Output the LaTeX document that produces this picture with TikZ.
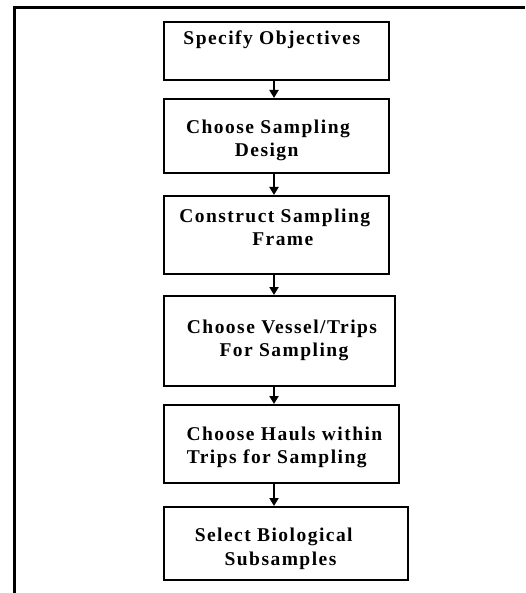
\documentclass[tikz,border=0pt]{standalone}
\usepackage{fontspec}
\newfontfamily\boxfont{Liberation Serif}[LetterSpace=7.5]
\usetikzlibrary{arrows.meta}
\tikzset{
  box/.style={draw=black, line width=2pt, rectangle, inner sep=0pt, fill=none},
  lbl/.style={anchor=base, inner sep=0pt, font={\boxfont\bfseries\fontsize{19.5}{22.7}\selectfont}},
  arr/.style={line width=2pt, -{Triangle[width=9pt,length=8pt]}},
  frame/.style={line width=3pt}
}
\begin{document}
\begin{tikzpicture}[x=1pt,y=-1pt]
\useasboundingbox (0,0) rectangle (525,593);
\draw[frame] (14.5,593) -- (14.5,8) -- (525,8);
% boxes
\node[box, minimum width=225pt, minimum height=58pt] (b1) at (276.5,51) {};
\node[box, minimum width=225pt, minimum height=74pt] (b2) at (276.5,136) {};
\node[box, minimum width=225pt, minimum height=78pt] (b3) at (276.5,235) {};
\node[box, minimum width=231pt, minimum height=90pt] (b4) at (279.5,341) {};
\node[box, minimum width=235pt, minimum height=78pt] (b5) at (281.5,444) {};
\node[box, minimum width=244pt, minimum height=73pt] (b6) at (286,543.5) {};
% labels
\node[lbl] (t1a) at (271.8,45) {Specify Objectives};
\node[lbl] (t2a) at (268,134) {Choose Sampling};
\node[lbl] (t2b) at (266.7,156.7) {Design};
\node[lbl] (t3a) at (274.7,222.7) {Construct Sampling};
\node[lbl] (t3b) at (282.8,245) {Frame};
\node[lbl] (t4a) at (282,333.3) {Choose Vessel/Trips};
\node[lbl] (t4b) at (284,356.7) {For Sampling};
\node[lbl] (t5a) at (284.5,440.7) {Choose Hauls within};
\node[lbl] (t5b) at (276.7,463.3) {Trips for Sampling};
\node[lbl] (t6a) at (273.7,541.7) {Select Biological};
\node[lbl] (t6b) at (280.5,565) {Subsamples};
% connectors
\coordinate (ax) at (274,0);
\draw[arr] (b1.south -| ax) -- (b2.north -| ax);
\draw[arr] (b2.south -| ax) -- (b3.north -| ax);
\draw[arr] (b3.south -| ax) -- (b4.north -| ax);
\draw[arr] (b4.south -| ax) -- (b5.north -| ax);
\draw[arr] (b5.south -| ax) -- (b6.north -| ax);
\end{tikzpicture}
\end{document}
